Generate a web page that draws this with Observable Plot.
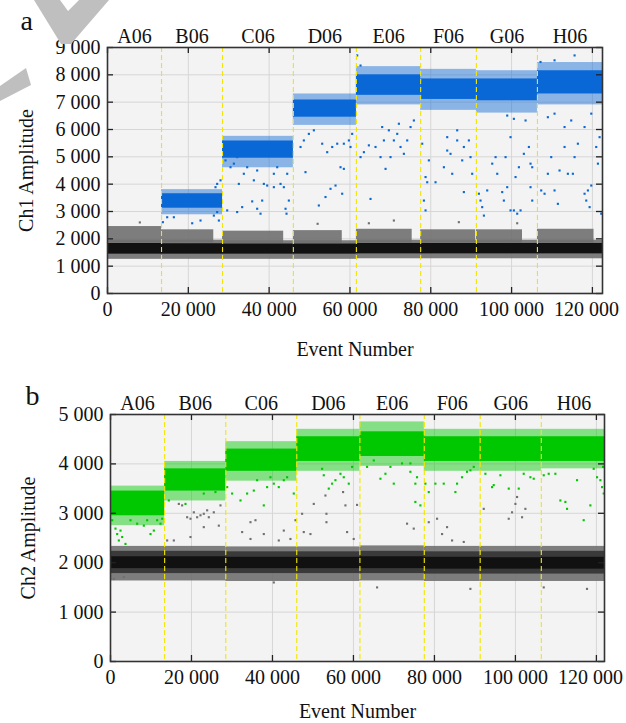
<!DOCTYPE html>
<html>
<head>
<meta charset="utf-8">
<script src="https://cdn.jsdelivr.net/npm/d3@7"></script>
<script src="https://cdn.jsdelivr.net/npm/@observablehq/plot@0.6"></script>
<style>
  body { margin: 0; background: #fff; }
  #wrap { position: relative; width: 626px; height: 723px; overflow: hidden; font-family: "Liberation Serif", "Times New Roman", serif; }
  #wm { position: absolute; left: 0; top: 0; }
  #wrap svg.plot { position: relative; display: block; }
</style>
</head>
<body>
<div id="wrap">
  <svg id="wm" width="130" height="110"><polygon points="34,0 60,0 68,11 79,0 109,0 71,44 61,44" fill="#bfbfbf"/><polygon points="0,86 26,68 31,85 0,101" fill="#bfbfbf"/></svg>
</div>
<script>
// ---------- data ----------
const wells = ["A06", "B06", "C06", "D06", "E06", "F06", "G06", "H06"];
const wellStart = [0, 13370, 28470, 46000, 61600, 77500, 91300, 106400];
const wellEnd = [13370, 28470, 46000, 61600, 77500, 91300, 106400, 122500];
const xTicks = [0, 20000, 40000, 60000, 80000, 100000, 120000];
const ch1Ticks = [0, 1000, 2000, 3000, 4000, 5000, 6000, 7000, 8000, 9000];
const ch2Ticks = [0, 1000, 2000, 3000, 4000, 5000];

// Ch1 negative (grey/black) droplet cloud
const ch1NegCoreLo = [1440, 1440, 1440, 1440, 1450, 1450, 1450, 1450];
const ch1NegCoreHi = [1830, 1820, 1810, 1810, 1830, 1830, 1830, 1830];
const ch1NegLow = [1250, 1250, 1250, 1250, 1270, 1270, 1270, 1270];
const ch1NegMid = [1950, 1950, 1930, 1930, 1950, 1950, 1950, 1950];
const ch1NegUpper = [2450, 2330, 2280, 2300, 2350, 2330, 2330, 2350];
const ch1NegUpperEnd = [13370, 26300, 43600, 58100, 75400, 91100, 102700, 120400];
// Ch1 positive (blue) droplet band
const ch1PosCoreLo = [null, 3120, 4950, 6450, 7250, 7100, 7050, 7300];
const ch1PosCoreHi = [null, 3650, 5580, 7080, 8000, 7850, 7850, 8150];
const ch1PosOuterLo = [null, 2880, 4600, 6150, 6900, 6700, 6600, 6900];
const ch1PosOuterHi = [null, 3800, 5750, 7300, 8300, 8200, 8150, 8450];
// Ch1 rain (x = event, y = amplitude)
const ch1Rain = [
  [13700,2610],[14770,2790],[16420,2790],[20960,2570],[23020,2670],[26320,2850],[27140,2980],[27560,2670],[27140,4010],[27970,4140],[26730,3890],
  [29620,3040],[32090,2980],[33330,3160],[35810,3370],[37040,3100],[37870,2920],[38280,3400],[44060,3100],[44300,2920],[29200,4870],[30440,4620],
  [31270,4750],[32090,4990],[32500,4010],[33740,4380],[34570,4620],[36220,4140],[37040,4500],[38690,4010],[39520,3950],[41170,3890],[42820,4010],
  [43640,3890],[41170,4380],[42000,4620],[44470,4380],[44880,3400],
  [47770,5360],[49000,4440],[48590,5600],[49830,5840],[51070,5970],[53130,5480],[54370,5170],[55610,5360],[56850,5480],[58490,5480],[59730,5600],
  [57670,4620],[58490,4560],[55190,3830],[56430,3950],[58080,3650],[53950,3530],[52300,3220],[60140,5360],[60550,5840],
  [61790,8710],[62620,8340],[64680,5420],[66330,5360],[67570,4990],[68810,4560],[67980,6090],[68400,5600],[69630,5970],[70870,5600],[71700,5840],
  [72520,5360],[73350,5110],[74170,5600],[75000,6090],[75820,6330],[65090,3460],[62620,4990],[63450,5170],[72110,6210],[70040,4990],
  [77880,5480],[78710,4260],[79120,4070],[78300,3400],[78710,3040],[79530,4870],[81180,4070],[84070,5230],[84890,5110],[86540,5600],[87780,4870],
  [88190,5360],[89430,5600],[89840,4990],[90250,4380],[83250,4620],[85310,4380],[86540,5970],[88190,3710],[84070,5720],
  [91910,3650],[92320,3400],[92730,3160],[93150,2850],[93970,3770],[95210,4750],[96040,4990],[96450,4380],[97680,3710],[98090,3400],[98510,4990],
  [98920,3890],[99740,3040],[100570,3040],[101390,2920],[102220,3040],[99740,5720],[100980,4260],[101810,4620],[103040,5110],[104280,5360],
  [104690,4750],[105110,4620],[104690,3890],[105110,3400],[103460,6330],[98920,6510],[100570,6390],
  [107330,3770],[108160,3650],[108980,4380],[109810,4990],[110630,3770],[111460,3280],[111870,4500],[113110,5360],[113930,4380],[115170,4380],
  [115590,4990],[116410,5480],[118060,3650],[118480,3400],[118890,3770],[119720,3950],[120950,5360],[121370,4750],[121780,5720],[122190,2920],
  [108980,6450],[110630,6580],[113110,6090],[114760,6330],[118060,6090],[119720,6580],[119310,3160],[115590,8710],[110630,8530],[107160,8470]
];
const ch1GreyRain = [[64680,2570],[70870,2670],[86950,2610],[101390,2570],[52000,2550],[8000,2600]];

// Ch2 negative cloud
const ch2NegCoreLo = [1880, 1880, 1880, 1880, 1880, 1870, 1870, 1870];
const ch2NegCoreHi = [2120, 2120, 2110, 2110, 2120, 2110, 2100, 2110];
const ch2NegMidLo = [1780, 1780, 1780, 1780, 1780, 1770, 1770, 1770];
const ch2NegMidHi = [2230, 2230, 2220, 2220, 2230, 2220, 2220, 2230];
const ch2NegOuterLo = [1630, 1630, 1620, 1620, 1630, 1620, 1620, 1620];
const ch2NegOuterHi = [2330, 2330, 2320, 2320, 2340, 2330, 2330, 2330];
// Ch2 positive (green) band
const ch2PosCoreLo = [2950, 3450, 3850, 4050, 4150, 4050, 4050, 4050];
const ch2PosCoreHi = [3450, 3900, 4300, 4550, 4650, 4550, 4550, 4550];
const ch2PosOuterLo = [2750, 3250, 3650, 3850, 3950, 3850, 3850, 3900];
const ch2PosOuterHi = [3550, 4050, 4450, 4700, 4850, 4700, 4700, 4700];
const ch2GreenRain = [
  [410,2860],[1230,2690],[1650,2580],[2470,2650],[2060,2450],[3700,2380],[2880,2520],[4940,2860],[6580,2790],[8230,2750],[9050,2860],[9880,2580],
  [10700,2650],[11520,2860],[12350,2790],[12760,2890],
  [14400,3260],[18520,3190],[23040,3400],[25920,3430],
  [28810,3530],[30040,3400],[32100,3260],[33740,3400],[35390,3460],[37860,3160],[38680,3530],[36210,3670],[39500,3730],[40330,3600],[41560,3530],
  [42800,3670],[43620,3730],[45260,3400],
  [52670,3770],[53900,3500],[54730,3600],[55550,3670],[56790,3800],[57610,3730],[58840,3600],[59670,3940],[52260,3900],
  [63370,3940],[65020,4070],[66660,3700],[67900,3800],[69960,3600],[69130,3940],[72000,4010],[74060,4010],[75290,3600],[75700,3730],[75290,3230],
  [76530,3160],[74060,3840],
  [77770,3600],[78600,3430],[80240,3600],[82300,3600],[85180,3430],[85590,3600],[86830,3730],[88060,3840],[88880,3870],[89710,3940],
  [92590,3800],[94230,3530],[94640,3570],[96290,3770],[98350,3500],[100820,3500],[102050,3800],[103700,3730],[104520,3700],
  [106990,3770],[108220,3800],[109870,3800],[111100,3260],[112340,3230],[112750,3090],[115220,3670],[116860,2860],[118510,3160],[120160,3730],
  [120980,3670],[121390,3530],[121800,3400],[121640,3940],[119330,3900]
];
const ch2GreyRain = [
  [16870,3190],[17690,3160],[18930,2920],[19750,2890],[20580,3020],[21400,2920],[22220,2960],[23040,2990],[23870,3060],[19750,2520],[13990,2450],
  [15640,2450],[23040,2720],[24280,2920],[25510,3020],[26750,2750],[27160,3160],
  [34570,2820],[35800,2860],[32510,2620],[34570,2480],[37860,2580],[41560,2450],[42800,2650],[44440,2480],
  [45680,2860],[47320,2990],[50200,3190],[47730,2620],[49380,2580],[53080,3360],[53330,2990],[53330,2820],[57440,3430],[58020,3160],[58430,2620],
  [60070,2480],[60890,3170],
  [73240,2790],[74890,2690],
  [78600,2820],[80650,2890],[81890,2580],[83120,2720],[84360,2450],[87240,2420],
  [92180,3090],[98350,2890],[99170,3020],[100000,3190],[100410,3330],[101640,2920],[102460,3090],
  [820,1670],[3290,1710],[40330,1600],[65840,1500],[88880,1470],[106990,1500],[117680,1470]
];

// ---------- styling ----------
const BLUE = "#0a68d6", GREEN = "#00c800", GREY = "#707070", DARK = "#3a3a3a", BLACK = "#111111";
const FONT = "Liberation Serif, Times New Roman, serif";
const fmt = d => d3.format(",")(d).replace(/,/g, " ");
const idx = d3.range(wells.length);
const center = i => (wellStart[i] + wellEnd[i]) / 2;

function frameMarks(yTicks, W, H, ylabel, ylabelDx, xlabelDy, letter, letterDx, letterDy) {
  return {
    back: [
      Plot.frame({fill: "#f3f3f3", stroke: null}),
      Plot.ruleX(xTicks, {stroke: "#d6d6d6", strokeWidth: 1}),
      Plot.ruleY(yTicks, {stroke: "#d6d6d6", strokeWidth: 1})
    ],
    front: [
      Plot.ruleX(wellStart.slice(1), {stroke: "#f2e600", strokeWidth: 1.1, strokeDasharray: "5,3"}),
      Plot.ruleX(xTicks, {stroke: "#222", strokeWidth: 1.3, insetTop: H - 6}),
      Plot.ruleX(xTicks, {stroke: "#222", strokeWidth: 1.3, insetBottom: H - 6}),
      Plot.ruleY(yTicks, {stroke: "#222", strokeWidth: 1.3, insetRight: W - 6}),
      Plot.ruleY(yTicks, {stroke: "#222", strokeWidth: 1.3, insetLeft: W - 6}),
      Plot.frame({stroke: "#333", strokeWidth: 1.6}),
      Plot.axisX({ticks: xTicks.slice(0, -1), tickSize: 0, tickPadding: 8, tickFormat: fmt, label: null, fontSize: 20, fill: "#111"}),
      Plot.axisX({ticks: xTicks.slice(-1), tickSize: 0, tickPadding: 8, tickFormat: fmt, label: null, fontSize: 20, fill: "#111", dx: -6}),
      Plot.axisY({ticks: yTicks, tickSize: 0, tickPadding: 7, tickFormat: fmt, label: null, fontSize: 20, fill: "#111"}),
      Plot.text(idx, {x: center, frameAnchor: "top", text: i => wells[i], lineAnchor: "bottom", dy: -5, fontSize: 20, fill: "#111"}),
      Plot.text(["Event Number"], {frameAnchor: "bottom", textAnchor: "middle", lineAnchor: "middle", dy: xlabelDy, fontSize: 20, fill: "#111"}),
      Plot.text([ylabel], {frameAnchor: "left", textAnchor: "middle", lineAnchor: "middle", dx: ylabelDx, rotate: -90, fontSize: 20, fill: "#111"}),
      Plot.text([letter], {frameAnchor: "top-left", dx: letterDx, dy: letterDy, textAnchor: "start", lineAnchor: "bottom", fontSize: 28, fill: "#111"})
    ]
  };
}

// ---------- panel a ----------
{
  const W = 626 - 107 - 24, H = 370 - 47 - 77;
  const fm = frameMarks(ch1Ticks, W, H, "Ch1 Amplitude", -81, 56, "a", -87, -18);
  const pos = idx.filter(i => ch1PosCoreLo[i] != null);
  const plotA = Plot.plot({
    width: 626, height: 370,
    marginLeft: 107, marginRight: 24, marginTop: 47, marginBottom: 77,
    x: {domain: [0, 122500]},
    y: {domain: [0, 9000]},
    style: {fontFamily: FONT, fontSize: "20px", background: "transparent", overflow: "visible"},
    marks: [
      ...fm.back,
      Plot.rect(idx, {x1: i => wellStart[i], x2: i => ch1NegUpperEnd[i], y1: i => ch1NegMid[i] - 100, y2: i => ch1NegUpper[i], fill: GREY, fillOpacity: 0.9, clip: true}),
      Plot.rect(idx, {x1: i => wellStart[i], x2: i => wellEnd[i], y1: i => ch1NegLow[i], y2: i => ch1NegMid[i], fill: GREY, fillOpacity: 0.9, clip: true}),
      Plot.rect(idx, {x1: i => wellStart[i], x2: i => wellEnd[i], y1: i => ch1NegCoreLo[i], y2: i => ch1NegCoreHi[i], fill: BLACK, clip: true}),
      Plot.dot(ch1GreyRain, {x: d => d[0], y: d => d[1], symbol: "square", r: 1.2, fill: GREY}),
      Plot.rect(pos, {x1: i => wellStart[i], x2: i => wellEnd[i], y1: i => ch1PosOuterLo[i], y2: i => ch1PosOuterHi[i], fill: BLUE, fillOpacity: 0.45, clip: true}),
      Plot.rect(pos, {x1: i => wellStart[i], x2: i => wellEnd[i], y1: i => ch1PosCoreLo[i], y2: i => ch1PosCoreHi[i], fill: BLUE, clip: true}),
      Plot.dot(ch1Rain, {x: d => d[0], y: d => d[1], symbol: "square", r: 1.2, fill: BLUE, clip: true}),
      ...fm.front
    ]
  });
  document.getElementById("wrap").appendChild(plotA);
}

// ---------- panel b ----------
{
  const W = 626 - 110 - 22, H = 353 - 44 - 62;
  const fm = frameMarks(ch2Ticks, W, H, "Ch2 Amplitude", -82, 50, "b", -85, -10);
  const plotB = Plot.plot({
    width: 626, height: 353,
    marginLeft: 110, marginRight: 22, marginTop: 44, marginBottom: 62,
    x: {domain: [0, 122000]},
    y: {domain: [0, 5000]},
    style: {fontFamily: FONT, fontSize: "20px", background: "transparent", overflow: "visible"},
    marks: [
      ...fm.back,
      Plot.rect(idx, {x1: i => wellStart[i], x2: i => wellEnd[i], y1: i => ch2NegOuterLo[i], y2: i => ch2NegOuterHi[i], fill: GREY, fillOpacity: 0.9, clip: true}),
      Plot.rect(idx, {x1: i => wellStart[i], x2: i => wellEnd[i], y1: i => ch2NegMidLo[i], y2: i => ch2NegMidHi[i], fill: DARK, clip: true}),
      Plot.rect(idx, {x1: i => wellStart[i], x2: i => wellEnd[i], y1: i => ch2NegCoreLo[i], y2: i => ch2NegCoreHi[i], fill: BLACK, clip: true}),
      Plot.dot(ch2GreyRain, {x: d => d[0], y: d => d[1], symbol: "square", r: 1.2, fill: GREY, clip: true}),
      Plot.rect(idx, {x1: i => wellStart[i], x2: i => wellEnd[i], y1: i => ch2PosOuterLo[i], y2: i => ch2PosOuterHi[i], fill: GREEN, fillOpacity: 0.45, clip: true}),
      Plot.rect(idx, {x1: i => wellStart[i], x2: i => wellEnd[i], y1: i => ch2PosCoreLo[i], y2: i => ch2PosCoreHi[i], fill: GREEN, clip: true}),
      Plot.dot(ch2GreenRain, {x: d => d[0], y: d => d[1], symbol: "square", r: 1.2, fill: GREEN, clip: true}),
      ...fm.front
    ]
  });
  document.getElementById("wrap").appendChild(plotB);
}
</script>
</body>
</html>
